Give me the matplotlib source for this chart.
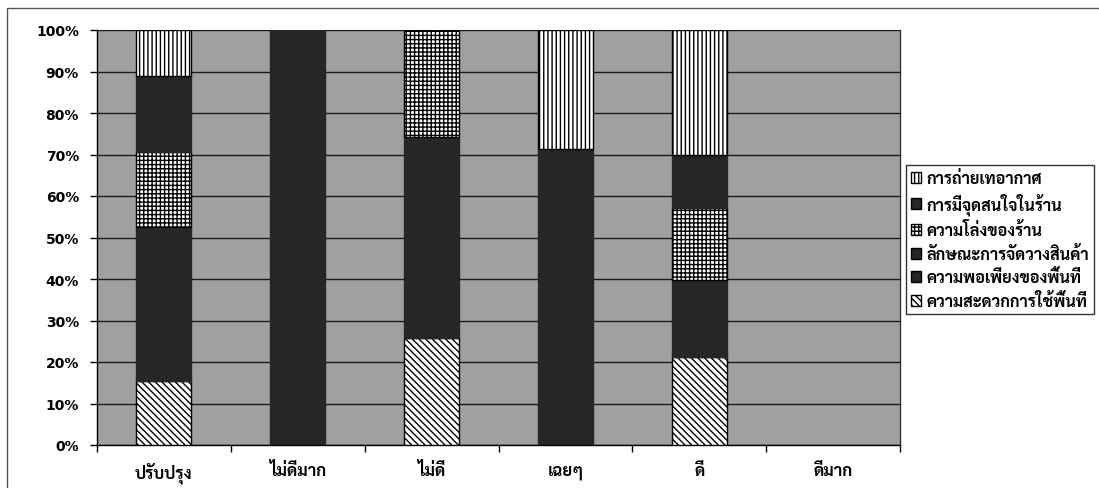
import matplotlib
matplotlib.use("Agg")
import matplotlib.pyplot as plt
import numpy as np
from matplotlib.patches import Rectangle
from matplotlib.ticker import FixedLocator, PercentFormatter

# Rating categories along the x axis
categories = ["ปรับปรุง", "ไม่ดีมาก", "ไม่ดี", "เฉยๆ", "ดี", "ดีมาก"]

# Stacked shares (percent), bottom to top
s_convenience = [15.5, 0, 25.9, 0, 21.3, 0]      # ความสะดวกการใช้พื้นที่
s_sufficiency = [18.5, 100, 48.2, 71.4, 18.5, 0] # ความพอเพียงของพื้นที่
s_layout = [18.5, 0, 0, 0, 0, 0]                 # ลักษณะการจัดวางสินค้า
s_openness = [18.0, 0, 25.9, 0, 17.3, 0]         # ความโล่งของร้าน
s_focus = [18.5, 0, 0, 0, 12.9, 0]               # การมีจุดสนใจในร้าน
s_airflow = [11.0, 0, 0, 28.6, 30.0, 0]          # การถ่ายเทอากาศ

series_names = [
    "ความสะดวกการใช้พื้นที่",
    "ความพอเพียงของพื้นที่",
    "ลักษณะการจัดวางสินค้า",
    "ความโล่งของร้าน",
    "การมีจุดสนใจในร้าน",
    "การถ่ายเทอากาศ",
]
series_values = [s_convenience, s_sufficiency, s_layout, s_openness, s_focus, s_airflow]

DARK = "#262626"
styles = [
    dict(facecolor="white", hatch="\\\\\\\\\\", edge="black"),
    dict(facecolor=DARK, hatch=None, edge=DARK),
    dict(facecolor=DARK, hatch=None, edge=DARK),
    dict(facecolor="white", hatch="++++", edge="black"),
    dict(facecolor=DARK, hatch=None, edge=DARK),
    dict(facecolor="white", hatch="||||", edge="black"),
]

thai = ["Sarabun", "Noto Sans Thai", "DejaVu Sans"]
plt.rcParams["hatch.linewidth"] = 1.0
plt.rcParams["hatch.color"] = "black"

W, H = 1099, 489
fig = plt.figure(figsize=(W / 100, H / 100), dpi=100)
fig.patch.set_facecolor("white")

# outer chart frame (only top and left edges fall inside the canvas)
fig.add_artist(Rectangle((7 / W, -0.2), 1.2, 1.2 - 9 / H, transform=fig.transFigure,
                         fill=False, edgecolor="#555555", linewidth=1.0))

ax = fig.add_axes([97 / W, 1 - 446 / H, (900 - 97) / W, (446 - 31) / H])
ax.set_facecolor("#a0a0a0")

x = np.arange(len(categories))
bottom = np.zeros(len(categories))
handles = []
for name, vals, st in zip(series_names, series_values, styles):
    vals = np.asarray(vals, dtype=float)
    shown = np.where(vals > 0, vals, np.nan)  # empty segments are not drawn
    bars = ax.bar(x, shown, width=0.41, bottom=bottom, color=st["facecolor"],
                  hatch=st["hatch"], edgecolor=st["edge"], linewidth=1.0, zorder=3,
                  label=name)
    bottom += vals
    handles.append(bars)

ax.set_xlim(-0.5, len(categories) - 0.5)
ax.set_ylim(0, 100)
ax.yaxis.set_major_locator(FixedLocator(np.arange(0, 101, 10)))
ax.yaxis.set_major_formatter(PercentFormatter(decimals=0))
ax.grid(axis="y", color="#1a1a1a", linewidth=1.0, zorder=1)
ax.set_axisbelow(True)

ax.set_xticks(x)
ax.set_xticklabels(categories, fontfamily=thai, fontweight="bold", fontsize=12)
ax.xaxis.set_minor_locator(FixedLocator(np.arange(-0.5, len(categories), 1.0)))
ax.tick_params(axis="x", which="major", length=0, pad=12)
ax.tick_params(axis="x", which="minor", length=5, width=1, direction="out", color="black")
ax.tick_params(axis="y", length=5, width=1, direction="out", color="black", pad=8)
for lbl in ax.get_yticklabels():
    lbl.set_fontweight("bold")
    lbl.set_fontsize(10)
    lbl.set_fontfamily("DejaVu Sans")

ax.spines["top"].set_visible(False)
for s in ("left", "bottom"):
    ax.spines[s].set_color("black")
    ax.spines[s].set_linewidth(1.0)
ax.spines["right"].set_color("#333333")
ax.spines["right"].set_linewidth(1.0)

# legend: reversed so the top stack segment is listed first
leg = fig.legend(handles[::-1], series_names[::-1], loc="upper left",
                 bbox_to_anchor=(906 / W, 1 - 166 / H),
                 prop=dict(family=thai, weight="bold", size=11.7),
                 frameon=True, fancybox=False, edgecolor="black",
                 handlelength=0.65, handleheight=0.65, handletextpad=0.3,
                 labelspacing=0.4, borderpad=0.3, borderaxespad=0)
leg.get_frame().set_linewidth(1.0)
for h in leg.legend_handles:
    h.set_edgecolor("black")

fig.savefig("out.png", dpi=100)
